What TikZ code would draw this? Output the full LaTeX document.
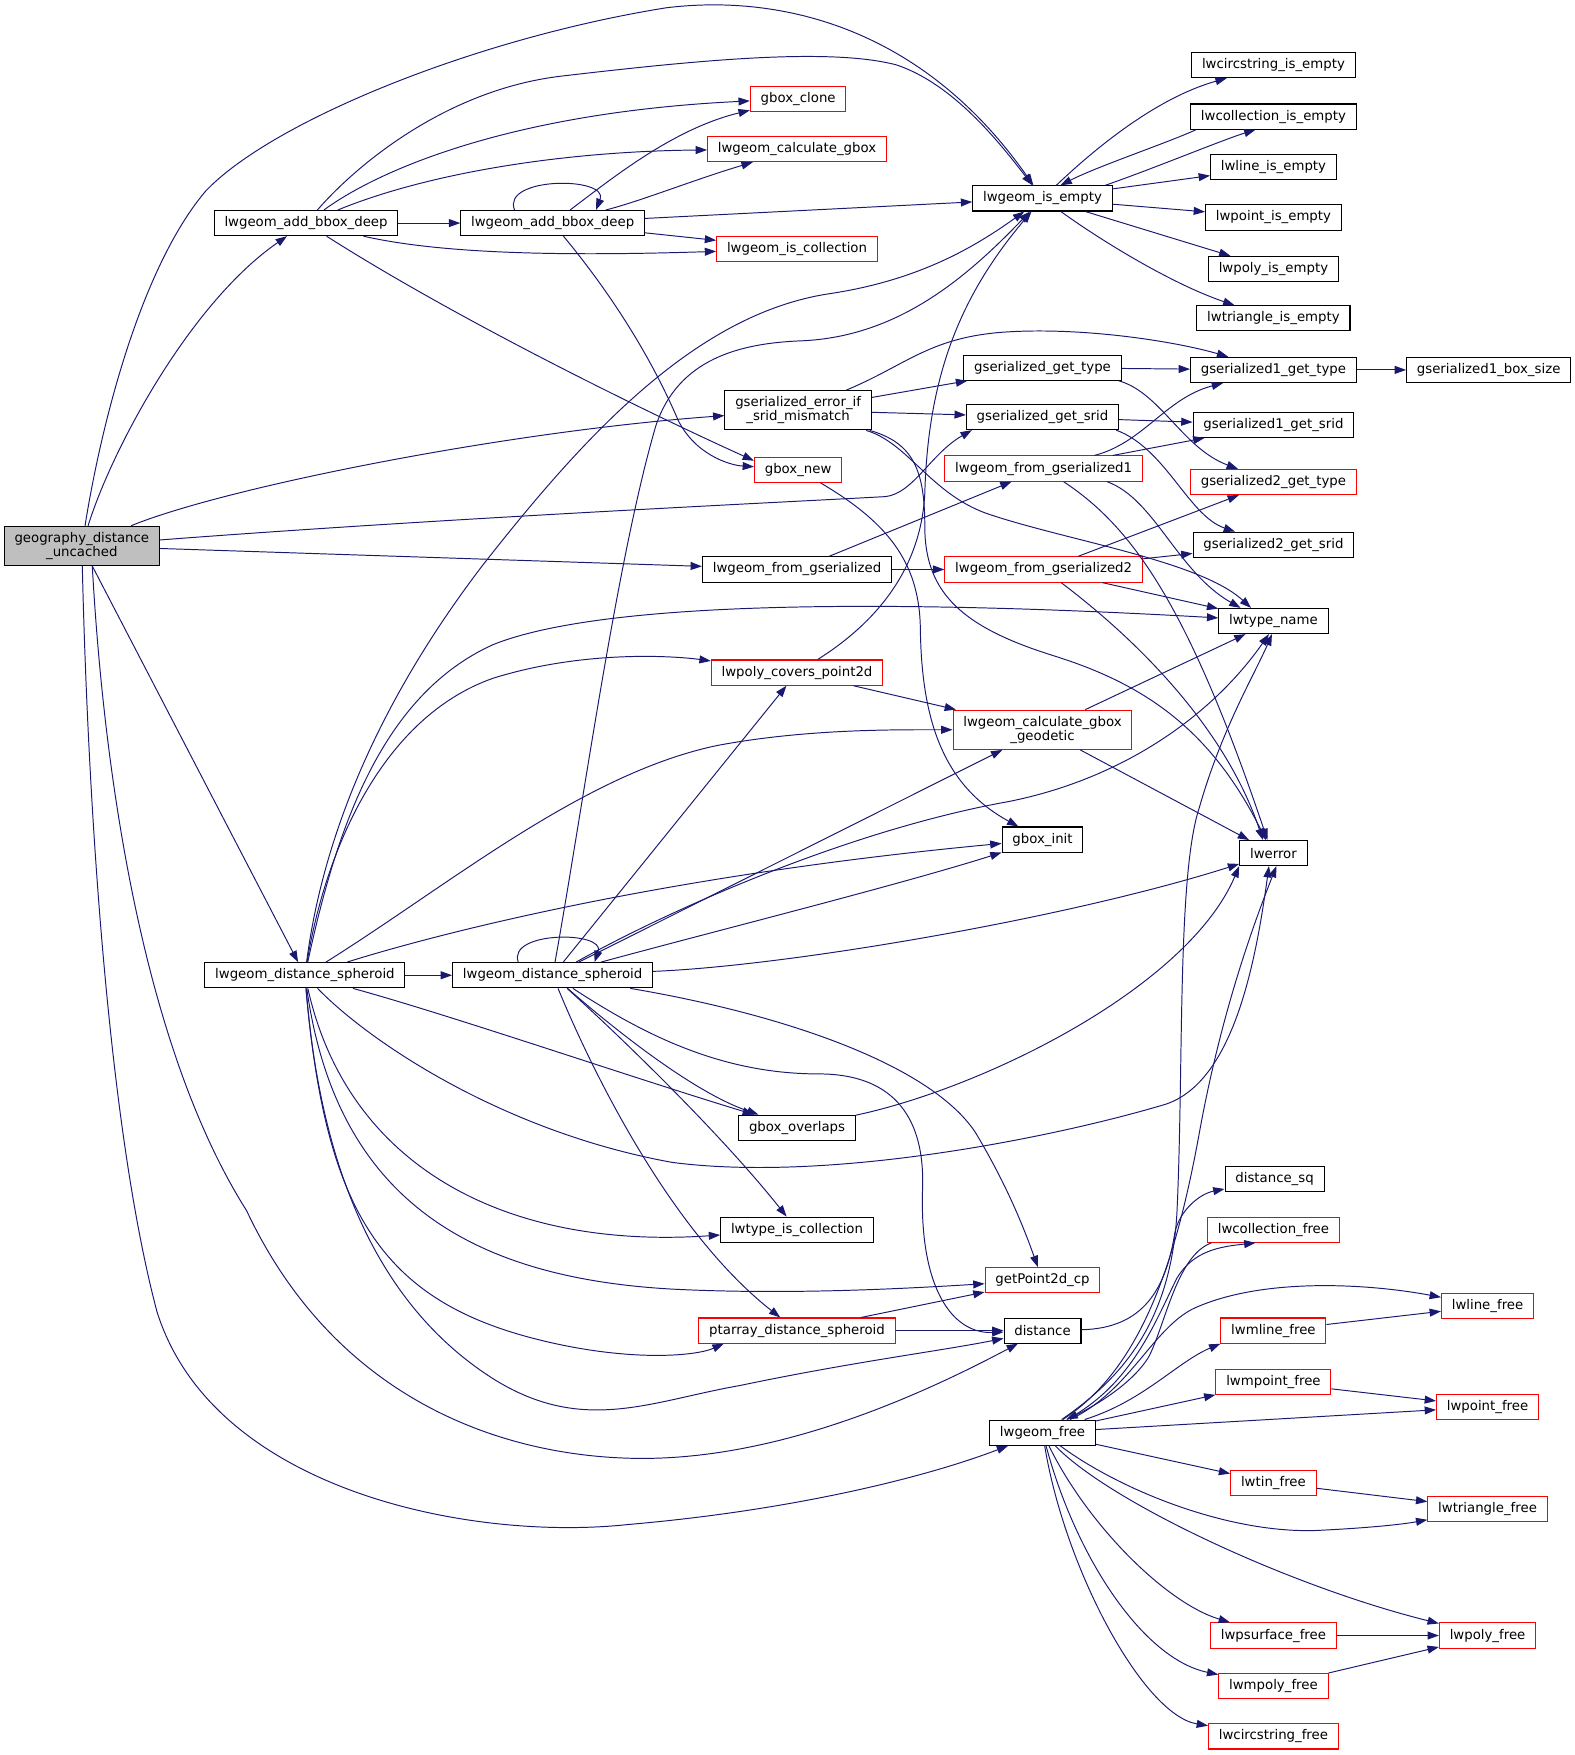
\documentclass[tikz,border=0pt]{standalone}
\usepackage{fontspec}
\usepackage{tikz}
\usetikzlibrary{arrows.meta}
\newfontfamily\graphfont{DejaVu Sans}
\definecolor{edgeblue}{RGB}{25,25,112}

\begin{document}
\begin{tikzpicture}[x=0.75pt, y=-0.75pt,
		>={Triangle[length=7.6pt,width=5.3pt]},
		fn/.style={draw=black, line width=0.7pt, inner xsep=6.9pt, inner ysep=4pt, minimum height=16.7pt, align=center, font=\graphfont\fontsize{8.9}{9.4}\selectfont},
		fnred/.style={fn, draw=red},
		calls/.style={->, draw=edgeblue, line width=0.65pt}]
			\useasboundingbox (0,0) rectangle (1405,1565.6); % page size
			% functions
			\node[fn, fill=gray!50] (root) at (73,487) {geography\_distance\\\_uncached};
			\node[fn] (adda) at (273,199) {lwgeom\_add\_bbox\_deep};
			\node[fn] (addb) at (493,199) {lwgeom\_add\_bbox\_deep};
			\node[fnred] (gclone) at (712,88) {gbox\_clone};
			\node[fnred] (calcgbox) at (711,133) {lwgeom\_calculate\_gbox};
			\node[fnred] (iscoll) at (711,222) {lwgeom\_is\_collection};
			\node[fn] (isempty) at (930,177) {lwgeom\_is\_empty};
			\node[fn] (circempty) at (1136,58) {lwcircstring\_is\_empty};
			\node[fn] (collempty) at (1136,104) {lwcollection\_is\_empty};
			\node[fn] (lineempty) at (1136,149) {lwline\_is\_empty};
			\node[fn] (pointempty) at (1136,194) {lwpoint\_is\_empty};
			\node[fn] (polyempty) at (1136,240) {lwpoly\_is\_empty};
			\node[fn] (triempty) at (1136,284) {lwtriangle\_is\_empty};
			\node[fn] (srcheck) at (712,366) {gserialized\_error\_if\\\_srid\_mismatch};
			\node[fn] (gettype) at (930,328) {gserialized\_get\_type};
			\node[fn] (getsrid) at (930,372) {gserialized\_get\_srid};
			\node[fn] (g1type) at (1136,330) {gserialized1\_get\_type};
			\node[fn] (g1box) at (1328,330) {gserialized1\_box\_size};
			\node[fn] (g1srid) at (1136,379) {gserialized1\_get\_srid};
			\node[fnred] (gnew) at (712,419) {gbox\_new};
			\node[fnred] (fromg1) at (931,418) {lwgeom\_from\_gserialized1};
			\node[fnred] (g2type) at (1136,430) {gserialized2\_get\_type};
			\node[fn] (g2srid) at (1136,486) {gserialized2\_get\_srid};
			\node[fn] (fromg) at (711,508) {lwgeom\_from\_gserialized};
			\node[fnred] (fromg2) at (931,508) {lwgeom\_from\_gserialized2};
			\node[fn] (typename) at (1136,554) {lwtype\_name};
			\node[fnred] (covers) at (711,600) {lwpoly\_covers\_point2d};
			\node[fnred] (calcgeod) at (930,651) {lwgeom\_calculate\_gbox\\\_geodetic};
			\node[fn] (ginit) at (930,749) {gbox\_init};
			\node[fn] (lwerr) at (1136,761) {lwerror};
			\node[fn] (dspa) at (272,870) {lwgeom\_distance\_spheroid};
			\node[fn] (dspb) at (493,870) {lwgeom\_distance\_spheroid};
			\node[fn] (overlaps) at (711,1006) {gbox\_overlaps};
			\node[fn] (distsq) at (1137,1052) {distance\_sq};
			\node[fnred] (collfree) at (1136,1097) {lwcollection\_free};
			\node[fn] (typecoll) at (711,1097) {lwtype\_is\_collection};
			\node[fnred] (getpt) at (930,1142) {getPoint2d\_cp};
			\node[fnred] (linefree) at (1327,1165) {lwline\_free};
			\node[fnred] (mlinefree) at (1136,1187) {lwmline\_free};
			\node[fnred] (ptarr) at (711,1187) {ptarray\_distance\_spheroid};
			\node[fn] (dist) at (930,1187) {distance};
			\node[fnred] (mpointfree) at (1136,1233) {lwmpoint\_free};
			\node[fnred] (pointfree) at (1327,1255) {lwpoint\_free};
			\node[fn] (geomfree) at (930,1278) {lwgeom\_free};
			\node[fnred] (tinfree) at (1136,1323) {lwtin\_free};
			\node[fnred] (trifree) at (1327,1346) {lwtriangle\_free};
			\node[fnred] (polyfree) at (1327,1459) {lwpoly\_free};
			\node[fnred] (psurffree) at (1136,1459) {lwpsurface\_free};
			\node[fnred] (mpolyfree) at (1136,1504) {lwmpoly\_free};
			\node[fnred] (circfree) at (1136,1549) {lwcircstring\_free};

			% calls of geography_distance_uncached
			\draw[calls] (root) .. controls (90,380) and (125,240) .. (183,171) .. controls (240,110) and (420,35) .. (594,7) .. controls (690,-5) and (820,20) .. (isempty);
			\draw[calls] (root) .. controls (100,400) and (170,270) .. (adda);
			\draw[calls] (root) .. controls (200,435) and (450,385) .. (srcheck);
			\draw[calls] (root) .. controls (400,462) and (700,448) .. (790,443) .. controls (815,440) and (830,405) .. ([xshift=4pt]getsrid.south west);
			\draw[calls] (root) -- (fromg);
			\draw[calls] (root) -- (dspa);
			\draw[calls] (root) .. controls (78,700) and (95,1000) .. (140,1170) .. controls (190,1330) and (420,1375) .. (560,1360) .. controls (700,1348) and (820,1320) .. (geomfree);
			\draw[calls] ([xshift=7pt]root.south) .. controls (92,680) and (125,930) .. (220,1080) .. controls (300,1250) and (450,1300) .. (570,1301) .. controls (700,1302) and (830,1240) .. (dist);

			% calls of lwgeom_add_bbox_deep
			\draw[calls] (adda) .. controls (320,145) and (400,80) .. (500,68) .. controls (620,54) and (740,42) .. (800,58) .. controls (850,75) and (890,125) .. (isempty);
			\draw[calls] (adda) .. controls (340,150) and (460,100) .. (gclone);
			\draw[calls] (adda) .. controls (380,155) and (500,135) .. (calcgbox);
			\draw[calls] (adda) -- (addb);
			\draw[calls] (adda) .. controls (400,228) and (520,228) .. (iscoll);
			\draw[calls] (adda) .. controls (400,280) and (560,360) .. ([yshift=6pt]gnew.west);
			\draw[calls] ([xshift=-25.5pt]addb.north) .. controls +(-12,-30) and +(12,-30) .. ([xshift=29pt]addb.north); % recursion
			\draw[calls] (addb) .. controls (545,160) and (600,115) .. (gclone);
			\draw[calls] (addb) .. controls (570,180) and (620,160) .. (calcgbox);
			\draw[calls] (addb) -- (isempty);
			\draw[calls] (addb) -- (iscoll);
			\draw[calls] (addb) .. controls (560,280) and (590,340) .. (605,375) .. controls (620,405) and (650,415) .. ([yshift=2pt]gnew.west);

			% calls of lwgeom_is_empty
			\draw[calls] (isempty) .. controls (990,120) and (1040,85) .. (circempty);
			\draw[calls] ([xshift=-5pt]isempty.north east) .. controls (1030,150) and (1090,125) .. ([xshift=-12pt]collempty.south);
			\draw[calls] ([xshift=4pt]collempty.south west) .. controls (1040,128) and (980,148) .. ([xshift=12pt]isempty.north);
			\draw[calls] (isempty) -- (lineempty);
			\draw[calls] (isempty) -- (pointempty);
			\draw[calls] (isempty) -- (polyempty);
			\draw[calls] (isempty) .. controls (990,220) and (1050,255) .. (triempty);

			% calls of gserialized_error_if_srid_mismatch
			\draw[calls] (srcheck) .. controls (810,325) and (830,300) .. (900,296) .. controls (970,292) and (1050,305) .. (g1type);
			\draw[calls] (srcheck) -- (gettype);
			\draw[calls] (srcheck) -- (getsrid);
			\draw[calls] (srcheck) .. controls (810,395) and (830,440) .. (880,458) .. controls (950,482) and (1070,500) .. ([xshift=-15pt]typename.north);
			\draw[calls] (srcheck) .. controls (815,395) and (825,420) .. (825,470) .. controls (825,530) and (860,560) .. (940,585) .. controls (1020,610) and (1080,650) .. ([xshift=-5pt]lwerr.north);

			% gserialized type and srid
			\draw[calls] (gettype) -- (g1type);
			\draw[calls] ([xshift=-2pt]gettype.south east) .. controls (1035,350) and (1055,400) .. (g2type);
			\draw[calls] (getsrid) -- (g1srid);
			\draw[calls] ([xshift=-2pt]getsrid.south east) .. controls (1040,400) and (1060,460) .. (g2srid);
			\draw[calls] (g1type) -- (g1box);

			% calls of lwgeom_from_gserialized
			\draw[calls] (fromg) -- (fromg1);
			\draw[calls] (fromg) -- (fromg2);
			\draw[calls] (fromg1) .. controls (1020,395) and (1040,355) .. (g1type);
			\draw[calls] (fromg1) -- (g1srid);
			\draw[calls] ([xshift=-24pt]fromg1.south east) .. controls (1030,445) and (1050,510) .. ([xshift=-22pt]typename.north);
			\draw[calls] (fromg1) .. controls (1010,470) and (1060,540) .. ([xshift=-4pt]lwerr.north);
			\draw[calls] (fromg2) -- (g2type);
			\draw[calls] (fromg2) -- (g2srid);
			\draw[calls] (fromg2) -- (typename);
			\draw[calls] (fromg2) .. controls (1000,560) and (1090,640) .. ([xshift=-7pt]lwerr.north);

			% gbox_new, lwpoly_covers_point2d, gbox helpers
			\draw[calls] (gnew) .. controls (790,465) and (820,500) .. (821,560) .. controls (822,640) and (840,700) .. (ginit);
			\draw[calls] (covers) .. controls (790,550) and (822,500) .. (825,440) .. controls (828,330) and (860,260) .. (isempty);
			\draw[calls] (covers) -- (calcgeod);
			\draw[calls] (calcgeod) -- (typename);
			\draw[calls] (calcgeod) -- (lwerr);
			\draw[calls] (overlaps) .. controls (880,970) and (1060,880) .. (lwerr.south west);

			% calls of lwgeom_distance_spheroid (outer)
			\draw[calls] (dspa) .. controls (290,730) and (350,610) .. (430,505) .. controls (520,390) and (620,280) .. (740,262) .. controls (820,250) and (870,220) .. (isempty);
			\draw[calls] (dspa) .. controls (300,740) and (340,620) .. (440,575) .. controls (540,535) and (800,535) .. (typename);
			\draw[calls] (dspa) .. controls (290,760) and (340,640) .. (440,605) .. controls (520,580) and (600,585) .. (covers);
			\draw[calls] (dspa) .. controls (400,790) and (520,690) .. (640,665) .. controls (720,650) and (800,651) .. (calcgeod);
			\draw[calls] (dspa) .. controls (400,830) and (600,780) .. (ginit);
			\draw[calls] (dspa) -- (dspb);
			\draw[calls] (dspa) .. controls (400,905) and (560,960) .. (overlaps);
			\draw[calls] (dspa) .. controls (330,930) and (450,1010) .. (600,1037) .. controls (740,1055) and (940,1015) .. (1040,985) .. controls (1100,965) and (1120,860) .. ([xshift=-3pt]lwerr.south);
			\draw[calls] (dspa) .. controls (310,1040) and (450,1115) .. (typecoll);
			\draw[calls] (dspa) .. controls (300,1070) and (420,1140) .. (600,1150) .. controls (700,1155) and (800,1150) .. (getpt);
			\draw[calls] (dspa) .. controls (290,1080) and (340,1160) .. (480,1195) .. controls (560,1215) and (620,1210) .. ([xshift=17pt]ptarr.south west);
			\draw[calls] (dspa) .. controls (285,1030) and (330,1160) .. (440,1230) .. controls (520,1280) and (580,1250) .. (660,1236) .. controls (760,1215) and (840,1205) .. (dist);

			% calls of lwgeom_distance_spheroid (inner)
			\draw[calls] ([xshift=-23pt]dspb.north) .. controls +(-10,-28) and +(10,-28) .. ([xshift=28pt]dspb.north); % recursion
			\draw[calls] (dspb) .. controls (520,720) and (550,500) .. (585,380) .. controls (605,320) and (660,306) .. (716,304) .. controls (800,300) and (860,250) .. (isempty);
			\draw[calls] (dspb) -- (covers);
			\draw[calls] (dspb) -- (calcgeod);
			\draw[calls] (dspb) .. controls (600,810) and (760,740) .. (900,715) .. controls (1000,695) and (1080,640) .. ([xshift=-3pt]typename.south);
			\draw[calls] (dspb) .. controls (640,830) and (800,790) .. (ginit);
			\draw[calls] (dspb) .. controls (700,862) and (950,820) .. (lwerr);
			\draw[calls] (dspb) .. controls (700,905) and (830,950) .. (870,1010) .. controls (900,1060) and (915,1100) .. (getpt);
			\draw[calls] (dspb) .. controls (570,920) and (640,958) .. (730,958) .. controls (800,958) and (825,1000) .. (823,1060) .. controls (820,1150) and (850,1190) .. (dist);
			\draw[calls] (dspb) .. controls (550,920) and (620,975) .. (overlaps);
			\draw[calls] (dspb) .. controls (570,940) and (650,1020) .. (typecoll);
			\draw[calls] (dspb) .. controls (530,960) and (600,1100) .. (ptarr);

			% ptarray_distance_spheroid and distance
			\draw[calls] (ptarr) -- (getpt);
			\draw[calls] (ptarr) -- (dist);
			\draw[calls] (dist) .. controls (1020,1185) and (1040,1150) .. (1048,1100) .. controls (1052,1080) and (1070,1065) .. (distsq);

			% calls of lwgeom_free
			\draw[calls] (geomfree) .. controls (1000,1230) and (1045,1180) .. (1050,1080) .. controls (1056,950) and (1050,780) .. (1070,720) .. controls (1090,650) and (1120,600) .. ([xshift=-1pt]typename.south);
			\draw[calls] (geomfree) .. controls (1020,1220) and (1050,1120) .. (1070,1010) .. controls (1090,900) and (1120,820) .. ([xshift=2pt]lwerr.south);
			\draw[calls] (geomfree) .. controls (1010,1235) and (1030,1180) .. (1050,1140) .. controls (1065,1115) and (1090,1112) .. ([xshift=-12pt]collfree.south);
			\draw[calls] ([xshift=3pt]collfree.south west) .. controls (1050,1120) and (1040,1180) .. (1025,1210) .. controls (1010,1235) and (975,1255) .. ([xshift=16pt]geomfree.north);
			\draw[calls] (geomfree) .. controls (1010,1240) and (1030,1180) .. (1070,1165) .. controls (1130,1140) and (1220,1145) .. (linefree);
			\draw[calls] (geomfree) .. controls (1020,1250) and (1050,1215) .. (mlinefree.south west);
			\draw[calls] (geomfree) -- (mpointfree);
			\draw[calls] (geomfree) -- (pointfree);
			\draw[calls] (geomfree) -- (tinfree);
			\draw[calls] (geomfree) .. controls (1000,1330) and (1100,1370) .. (1180,1365) .. controls (1220,1363) and (1250,1360) .. (trifree);
			\draw[calls] (geomfree) .. controls (990,1340) and (1150,1415) .. (polyfree);
			\draw[calls] (geomfree) .. controls (970,1360) and (1040,1430) .. (psurffree);
			\draw[calls] (geomfree) .. controls (960,1390) and (1020,1480) .. (mpolyfree);
			\draw[calls] (geomfree) .. controls (950,1400) and (1020,1530) .. (circfree);
			\draw[calls] (mlinefree) -- (linefree);
			\draw[calls] (mpointfree) -- (pointfree);
			\draw[calls] (tinfree) -- (trifree);
			\draw[calls] (psurffree) -- (polyfree);
			\draw[calls] (mpolyfree) -- (polyfree);
		\end{tikzpicture}
\end{document}
